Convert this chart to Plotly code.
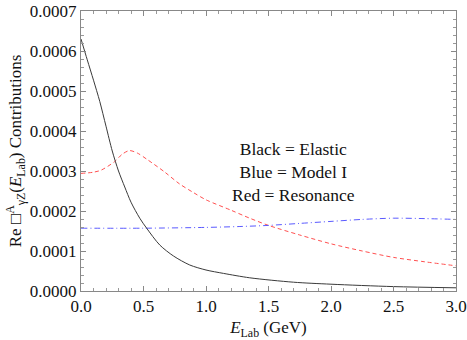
import plotly.graph_objects as go

# Data (values in units of 1e-4)
e_black = [0, 0.05, 0.1, 0.15, 0.2, 0.25, 0.3, 0.35, 0.4, 0.47, 0.525, 0.63, 0.74, 0.87, 1.0, 1.14, 1.35, 1.7, 2.0, 2.5, 3.0]
v_black = [6.3, 5.78, 5.27, 4.74, 4.12, 3.5, 3.0, 2.6, 2.22, 1.82, 1.57, 1.15, 0.875, 0.65, 0.525, 0.44, 0.33, 0.22, 0.17, 0.11, 0.08]

e_red = [0, 0.1, 0.16, 0.267, 0.33, 0.387, 0.45, 0.533, 0.667, 0.787, 0.9, 1.0, 1.2, 1.35, 1.5, 1.75, 2.0, 2.25, 2.5, 2.75, 3.0]
v_red = [2.94, 2.97, 3.02, 3.23, 3.42, 3.51, 3.45, 3.28, 2.98, 2.68, 2.46, 2.28, 2.02, 1.82, 1.64, 1.4, 1.18, 1.0, 0.84, 0.73, 0.63]

e_blue = [0, 0.5, 1.0, 1.25, 1.5, 1.75, 2.0, 2.25, 2.5, 2.75, 3.0]
v_blue = [1.57, 1.57, 1.59, 1.61, 1.64, 1.69, 1.74, 1.79, 1.82, 1.81, 1.79]

y_ticks = [0, 0.0001, 0.0002, 0.0003, 0.0004, 0.0005, 0.0006, 0.0007]
y_ticklabels = ["0.0000", "0.0001", "0.0002", "0.0003", "0.0004", "0.0005", "0.0006", "0.0007"]
x_ticks = [0, 0.5, 1.0, 1.5, 2.0, 2.5, 3.0]
x_ticklabels = ["0.0", "0.5", "1.0", "1.5", "2.0", "2.5", "3.0"]

scale = 1e-4
FONT = "Times New Roman, Liberation Serif, serif"

fig = go.Figure()
fig.add_trace(go.Scatter(x=e_red, y=[v * scale for v in v_red], mode="lines",
                         line=dict(color="#ff5050", width=1, dash="4px,3px", shape="spline", smoothing=0.8)))
fig.add_trace(go.Scatter(x=e_blue, y=[v * scale for v in v_blue], mode="lines",
                         line=dict(color="#5a5aff", width=1, dash="6px,3px,1px,3px", shape="spline", smoothing=0.8)))
fig.add_trace(go.Scatter(x=e_black, y=[v * scale for v in v_black], mode="lines",
                         line=dict(color="#3a3a3a", width=1, shape="spline", smoothing=0.8)))

axis_common = dict(
    showline=True, linecolor="#888888", linewidth=1, mirror="allticks",
    ticks="inside", tickcolor="#888888", ticklen=5, tickwidth=1,
    showgrid=False, zeroline=False, automargin=False, ticklabeloverflow="allow",
    tickfont=dict(family=FONT, size=17, color="#111111"),
)

fig.update_layout(
    width=467, height=340,
    margin=dict(l=81, r=11, t=11, b=49),
    paper_bgcolor="white", plot_bgcolor="white",
    showlegend=False,
    font=dict(family=FONT, size=17, color="#111111"),
    xaxis=dict(range=[0, 3.0], tickvals=x_ticks, ticktext=x_ticklabels,
               title=dict(text="<i>E</i><sub>Lab</sub> (GeV)", font=dict(family=FONT, size=17), standoff=22),
               minor=dict(dtick=0.1, ticks="inside", ticklen=3, tickcolor="#999999"),
               **axis_common),
    yaxis=dict(range=[0, 0.0007], tickvals=y_ticks, ticktext=y_ticklabels,
               title=dict(text="Re □<sup>A</sup><sub>γZ</sub>(<i>E</i><sub>Lab</sub>) Contributions",
                          font=dict(family=FONT, size=17), standoff=3),
               minor=dict(dtick=0.00002, ticks="inside", ticklen=3, tickcolor="#999999"),
               **axis_common),
)

fig.add_annotation(x=0.736, y=0.425, xref="paper", yref="paper",
                   text="Black = Elastic<br>Blue = Model I<br>Red = Resonance",
                   showarrow=False, align="center",
                   font=dict(family=FONT, size=17.5, color="#111111"))

fig.write_html("out.html", config={"displayModeBar": False},
               post_script="document.body.style.margin='0';document.body.style.padding='0';")
